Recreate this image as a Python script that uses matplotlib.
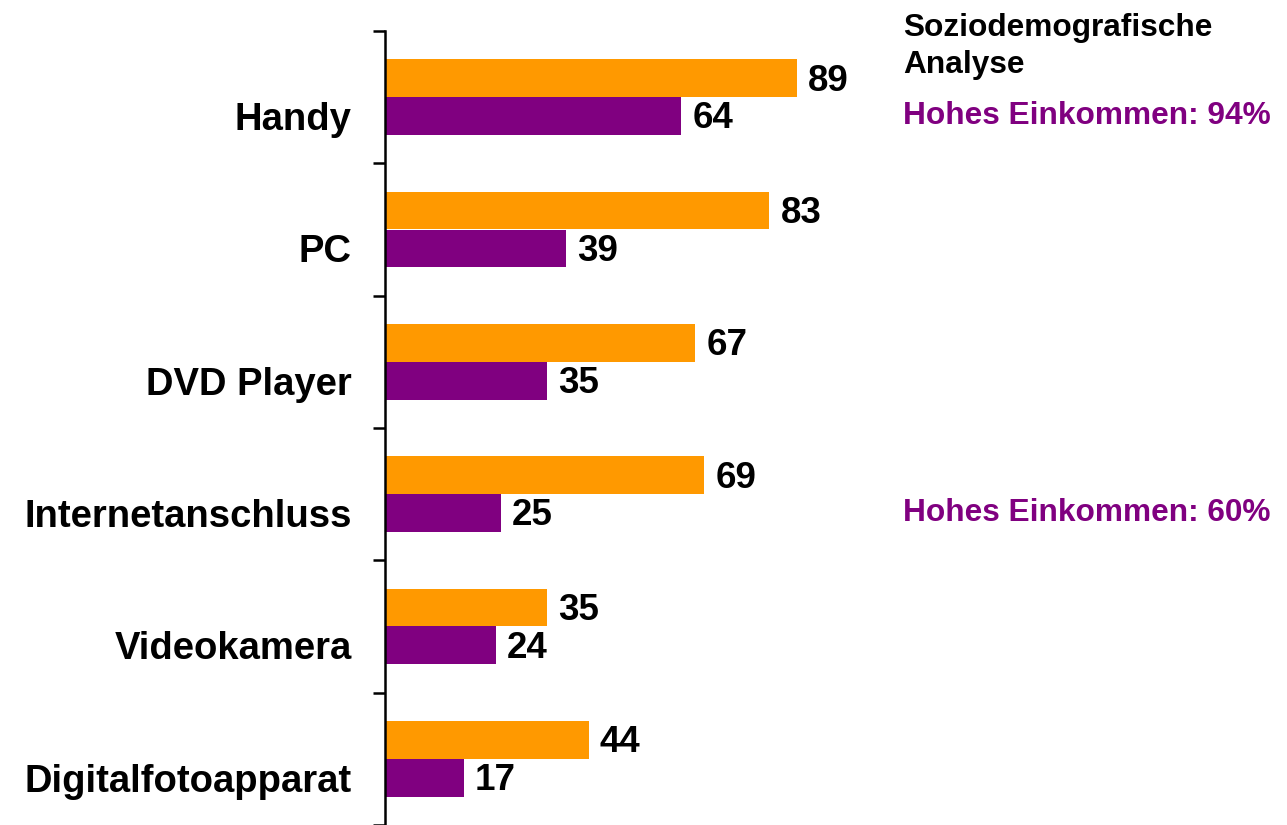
import numpy as np
import matplotlib
matplotlib.use("Agg")
import matplotlib.pyplot as plt

# data
categories = ["Handy", "PC", "DVD Player", "Internetanschluss", "Videokamera", "Digitalfotoapparat"]
orange_vals = [89, 83, 67, 69, 35, 44]
purple_vals = [64, 39, 35, 25, 24, 17]
notes = {"Handy": "Hohes Einkommen: 94%", "Internetanschluss": "Hohes Einkommen: 60%"}

ORANGE = "#FF9900"
PURPLE = "#800080"

plt.rcParams["font.family"] = ["Liberation Sans", "DejaVu Sans"]

W, H = 1287, 825
fig = plt.figure(figsize=(W / 100, H / 100), dpi=100)
ax = fig.add_axes([385 / W, 0.0, 1 - 385 / W, 1 - 31 / H])

n = len(categories)
centers = np.arange(n) + 0.5
h = 0.285

ax.barh(centers - h / 2, orange_vals, height=h, color=ORANGE, edgecolor="none")
ax.barh(centers + h / 2, purple_vals, height=h, color=PURPLE, edgecolor="none")

for c, ov, pv in zip(centers, orange_vals, purple_vals):
    ax.annotate(str(ov), (ov, c - h / 2), xytext=(8, -2), textcoords="offset points",
                va="center", ha="left", fontsize=26.5, fontweight="bold")
    ax.annotate(str(pv), (pv, c + h / 2), xytext=(8, -2), textcoords="offset points",
                va="center", ha="left", fontsize=26.5, fontweight="bold")

ax.set_xlim(0, (W - 385) / 4.63)
ax.set_ylim(n, 0)

# boundary ticks on the y axis, labels sit next to the purple bars
ax.set_yticks(np.arange(n + 1))
ax.set_yticklabels([])
ax.tick_params(axis="y", which="major", length=9, width=1.8, direction="out")
ax.set_yticks(centers + h / 2, minor=True)
ax.set_yticklabels(categories, minor=True, fontsize=27.5, fontweight="bold")
ax.tick_params(axis="y", which="minor", length=0, pad=24)

ax.xaxis.set_visible(False)
for s in ["top", "right", "bottom"]:
    ax.spines[s].set_visible(False)
ax.spines["left"].set_linewidth(1.8)

# side notes
fig.text(903 / W, 1 - 13 / H, "Soziodemografische\nAnalyse", ha="left", va="top",
         fontsize=22.8, fontweight="bold", linespacing=1.3)
for cat, txt in notes.items():
    i = categories.index(cat)
    ax.annotate(txt, (903 / W, centers[i] + h / 2), xycoords=("figure fraction", "data"),
                ha="left", va="center", fontsize=22.8, fontweight="bold", color=PURPLE)

fig.savefig("out.png", dpi=100)
